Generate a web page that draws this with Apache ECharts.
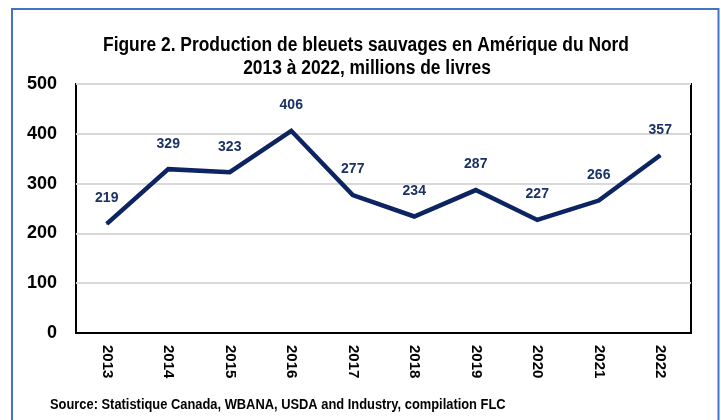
<!DOCTYPE html>
<html><head><meta charset="utf-8">
<script src="https://cdn.jsdelivr.net/npm/echarts@6/dist/echarts.min.js"></script>
<style>html,body{margin:0;padding:0;background:#fff}#c{width:721px;height:420px}</style>
</head><body><div id="c"></div>
<script>
const years = ['2013','2014','2015','2016','2017','2018','2019','2020','2021','2022'];
const production = [219,329,323,406,277,234,287,227,266,357];
const yTicks = [0,100,200,300,400,500];
const titleLines = ['Figure 2. Production de bleuets sauvages en Amérique du Nord','2013 à 2022, millions de livres'];
const sourceText = 'Source: Statistique Canada, WBANA, USDA and Industry, compilation FLC';

const FONT = '"Liberation Sans Narrow","Arial Narrow","Liberation Sans",Arial,sans-serif';
const chart = echarts.init(document.getElementById('c'), null, {renderer:'canvas'});
chart.setOption({
  animation:false,
  backgroundColor:'#fff',
  graphic:[
    {type:'rect', shape:{x:12,y:9,width:706.5,height:430}, style:{fill:null, stroke:'#4472C4', lineWidth:2}, silent:true, z:-1},
    {type:'text', x:366, y:45, scaleX:0.87, style:{text:titleLines[0], align:'center', verticalAlign:'middle', fontFamily:FONT, fontWeight:'bold', fontSize:20, fill:'#000'}},
    {type:'text', x:367, y:68, scaleX:0.87, style:{text:titleLines[1], align:'center', verticalAlign:'middle', fontFamily:FONT, fontWeight:'bold', fontSize:20, fill:'#000'}},
    {type:'text', x:50, y:405, scaleX:0.92, style:{text:sourceText, verticalAlign:'middle', fontFamily:FONT, fontWeight:'bold', fontSize:14, fill:'#000'}}
  ],
  grid:{left:76, top:84, right:30, bottom:87, show:true, borderColor:'#000', borderWidth:2, backgroundColor:'#fff'},
  xAxis:{
    type:'category', data:years, boundaryGap:true,
    axisLine:{show:true, lineStyle:{color:'#000', width:2}},
    axisTick:{show:false},
    axisLabel:{rotate:-90, margin:12, fontFamily:FONT, fontWeight:'bold', fontSize:15, color:'#000'}
  },
  yAxis:{
    type:'value', min:yTicks[0], max:yTicks[yTicks.length-1], interval:100,
    axisLine:{show:false}, axisTick:{show:false},
    axisLabel:{margin:19, fontFamily:FONT, fontWeight:'bold', fontSize:18, color:'#000'},
    splitLine:{show:true, lineStyle:{color:'#d9d9d9', width:2}}
  },
  series:[{
    type:'line', data:production, symbol:'circle', symbolSize:1, showSymbol:true,
    itemStyle:{color:'#0d2463'},
    lineStyle:{color:'#0d2463', width:4.5, join:'miter'},
    label:{show:true, position:'top', distance:18, fontFamily:FONT, fontWeight:'bold', fontSize:14, color:'#1a3266'}
  }]
});
</script></body></html>
